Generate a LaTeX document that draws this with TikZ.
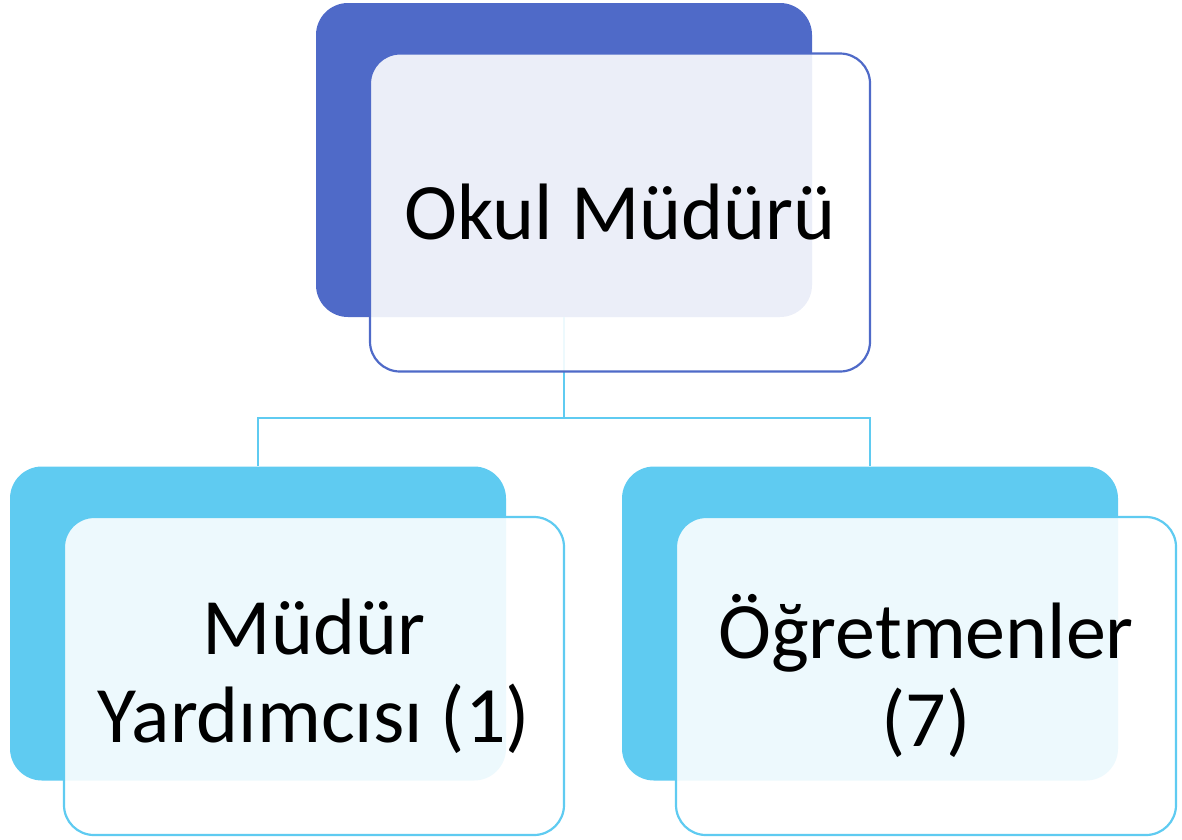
\documentclass[tikz,border=0pt]{standalone}
\usepackage{fontspec}
\setmainfont{Carlito}
\definecolor{topblue}{HTML}{4F6AC8}
\definecolor{subcyan}{HTML}{5FCBF1}
\tikzset{
  backbox/.style={rounded corners=32pt, minimum width=496pt, minimum height=314pt, inner sep=0pt, draw=none},
  frontbox/.style={rounded corners=30pt, minimum width=500pt, minimum height=318pt, inner sep=0pt,
    fill=white, fill opacity=0.89, text opacity=1, line width=2.2pt, align=center,
    font=\fontsize{80}{88}\selectfont},
  conn/.style={draw=subcyan, line width=2.2pt}
}
\begin{document}
\begin{tikzpicture}[x=1pt,y=-1pt]
\useasboundingbox (0,0) rectangle (1182,839);
% back boxes
\node[backbox, fill=topblue] (tb) at (564,160) {};
\node[backbox, fill=subcyan] (lb) at (258,623.5) {};
\node[backbox, fill=subcyan] (rb) at (870,623.5) {};
% connectors
\coordinate (j) at (564,418);
\draw[conn] (tb.south) -- (tb.south |- j) -| (lb.north);
\draw[conn] (tb.south |- j) -| (rb.north);
% front boxes
\node[frontbox, draw=topblue] (tf) at (620,212.5) {Okul Müdürü};
\node[frontbox, draw=subcyan] (lf) at (314,676) {Müdür\\Yardımcısı (1)};
\node[frontbox, draw=subcyan] (rf) at (926,676) {Öğretmenler\\(7)};
\end{tikzpicture}
\end{document}
